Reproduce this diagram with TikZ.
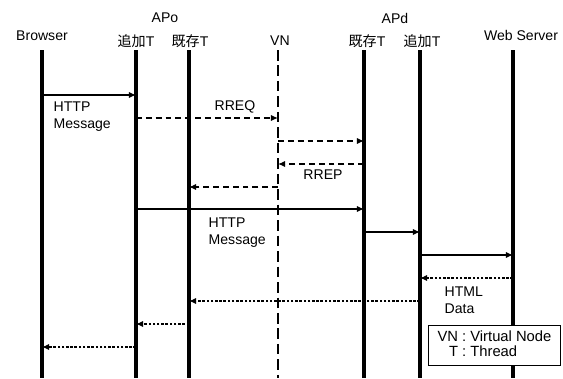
\documentclass[tikz,border=0pt]{standalone}
\usepackage{fontspec}
\setmainfont{Liberation Sans}
\newfontfamily\jpfont{Noto Sans CJK JP}
\usepackage{tikz}
\usetikzlibrary{arrows.meta, positioning, calc}

\begin{document}
\begin{tikzpicture}[x=0.025cm, y=-0.025cm,
            lbl/.style={font=\fontsize{10}{12}\selectfont, inner sep=1pt},
            txt/.style={lbl, align=left, anchor=west},
            life/.style={line width=2.3pt},
            vnlife/.style={line width=1.1pt, dash pattern=on 7.5pt off 3.5pt},
            msg/.style={draw, line width=1.1pt, -{Latex[length=5pt,width=4.5pt]}},
            req/.style={msg, dash pattern=on 4.2pt off 2.8pt},
            rsp/.style={msg, line width=1.3pt, dash pattern=on 1.8pt off 1.2pt},
            key/.style={rectangle, draw, line width=0.6pt, fill=white,
                    minimum width=3.3cm, minimum height=1cm,
                    font=\fontsize{10.5}{12}\selectfont, inner sep=2pt}
            ]
            \useasboundingbox (0,0) rectangle (563,378);

            %% ---- Headers ----
            \node[lbl] (apo)  at (165,18)  {APo};
            \node[lbl] (apd)  at (395,18)  {APd};
            \node[lbl] (brw)  at (42,36)   {Browser};
            \node[lbl] (oadd) at (136,41)  {{\jpfont 追加}T};
            \node[lbl] (oold) at (190,41)  {{\jpfont 既存}T};
            \node[lbl] (vn)   at (280,41)  {VN};
            \node[lbl] (dold) at (367,41)  {{\jpfont 既存}T};
            \node[lbl] (dadd) at (422,41)  {{\jpfont 追加}T};
            \node[lbl] (web)  at (521,35)  {Web Server};

            %% ---- Lifelines ----
            \coordinate (brwT)  at (42,50);   \coordinate (brwB)  at (42,378);
            \coordinate (oaddT) at (136,50);  \coordinate (oaddB) at (136,378);
            \coordinate (ooldT) at (189,50);  \coordinate (ooldB) at (189,378);
            \coordinate (vnT)   at (278,50);  \coordinate (vnB)   at (278,378);
            \coordinate (doldT) at (364,50);  \coordinate (doldB) at (364,378);
            \coordinate (daddT) at (420,50);  \coordinate (daddB) at (420,378);
            \coordinate (webT)  at (513,50);  \coordinate (webB)  at (513,378);
            \draw[life] (brwT) -- (brwB);
            \draw[life] (oaddT) -- (oaddB);
            \draw[life] (ooldT) -- (ooldB);
            \draw[vnlife] (vnT) -- (vnB);
            \draw[life] (doldT) -- (doldB);
            \draw[life] (daddT) -- (daddB);
            \draw[life] (webT) -- (webB);

            %% ---- Message rows ----
            \coordinate (m1)  at (0,95);
            \coordinate (m2)  at (0,118);
            \coordinate (m3)  at (0,141);
            \coordinate (m4)  at (0,164);
            \coordinate (m5)  at (0,187);
            \coordinate (m6)  at (0,209);
            \coordinate (m7)  at (0,232);
            \coordinate (m8)  at (0,255);
            \coordinate (m9)  at (0,278);
            \coordinate (m10) at (0,301);
            \coordinate (m11) at (0,324);
            \coordinate (m12) at (0,347);

            %% ---- Messages ----
            % request from the browser
            \draw[msg] (brwT |- m1) -- (oaddT |- m1);
            \node[txt] (http1) at (52,117) {HTTP\\Message};
            % route request / reply through VN
            \draw[req] (oaddT |- m2) -- (vnT |- m2);
            \node[lbl] (rreq) at (235,107) {RREQ};
            \draw[req] (vnT |- m3) -- (doldT |- m3);
            \draw[req] (doldT |- m4) -- (vnT |- m4);
            \node[lbl] (rrep) at (323,175) {RREP};
            \draw[req] (vnT |- m5) -- (ooldT |- m5);
            % HTTP message to the destination
            \draw[msg] (oaddT |- m6) -- (doldT |- m6);
            \node[txt] (http2) at (207,233) {HTTP\\Message};
            \draw[msg] (doldT |- m7) -- (daddT |- m7);
            \draw[msg] (daddT |- m8) -- (webT |- m8);
            % HTML data back to the browser
            \draw[rsp] (webT |- m9) -- (daddT |- m9);
            \node[txt] (html) at (443,300) {HTML\\Data};
            \draw[rsp] (daddT |- m10) -- (ooldT |- m10);
            \draw[rsp] ([xshift=-3pt]ooldT |- m11) -- (oaddT |- m11);
            \draw[rsp] (oaddT |- m12) -- (brwT |- m12);

            %% ---- Legend ----
            \node[key, anchor=north west] (legend) at (428,325) {%
                \begin{tabular}{@{}r@{ : }l@{}}
                VN & Virtual Node\\[-1pt]
                T  & Thread
                \end{tabular}};
\end{tikzpicture}
\end{document}
